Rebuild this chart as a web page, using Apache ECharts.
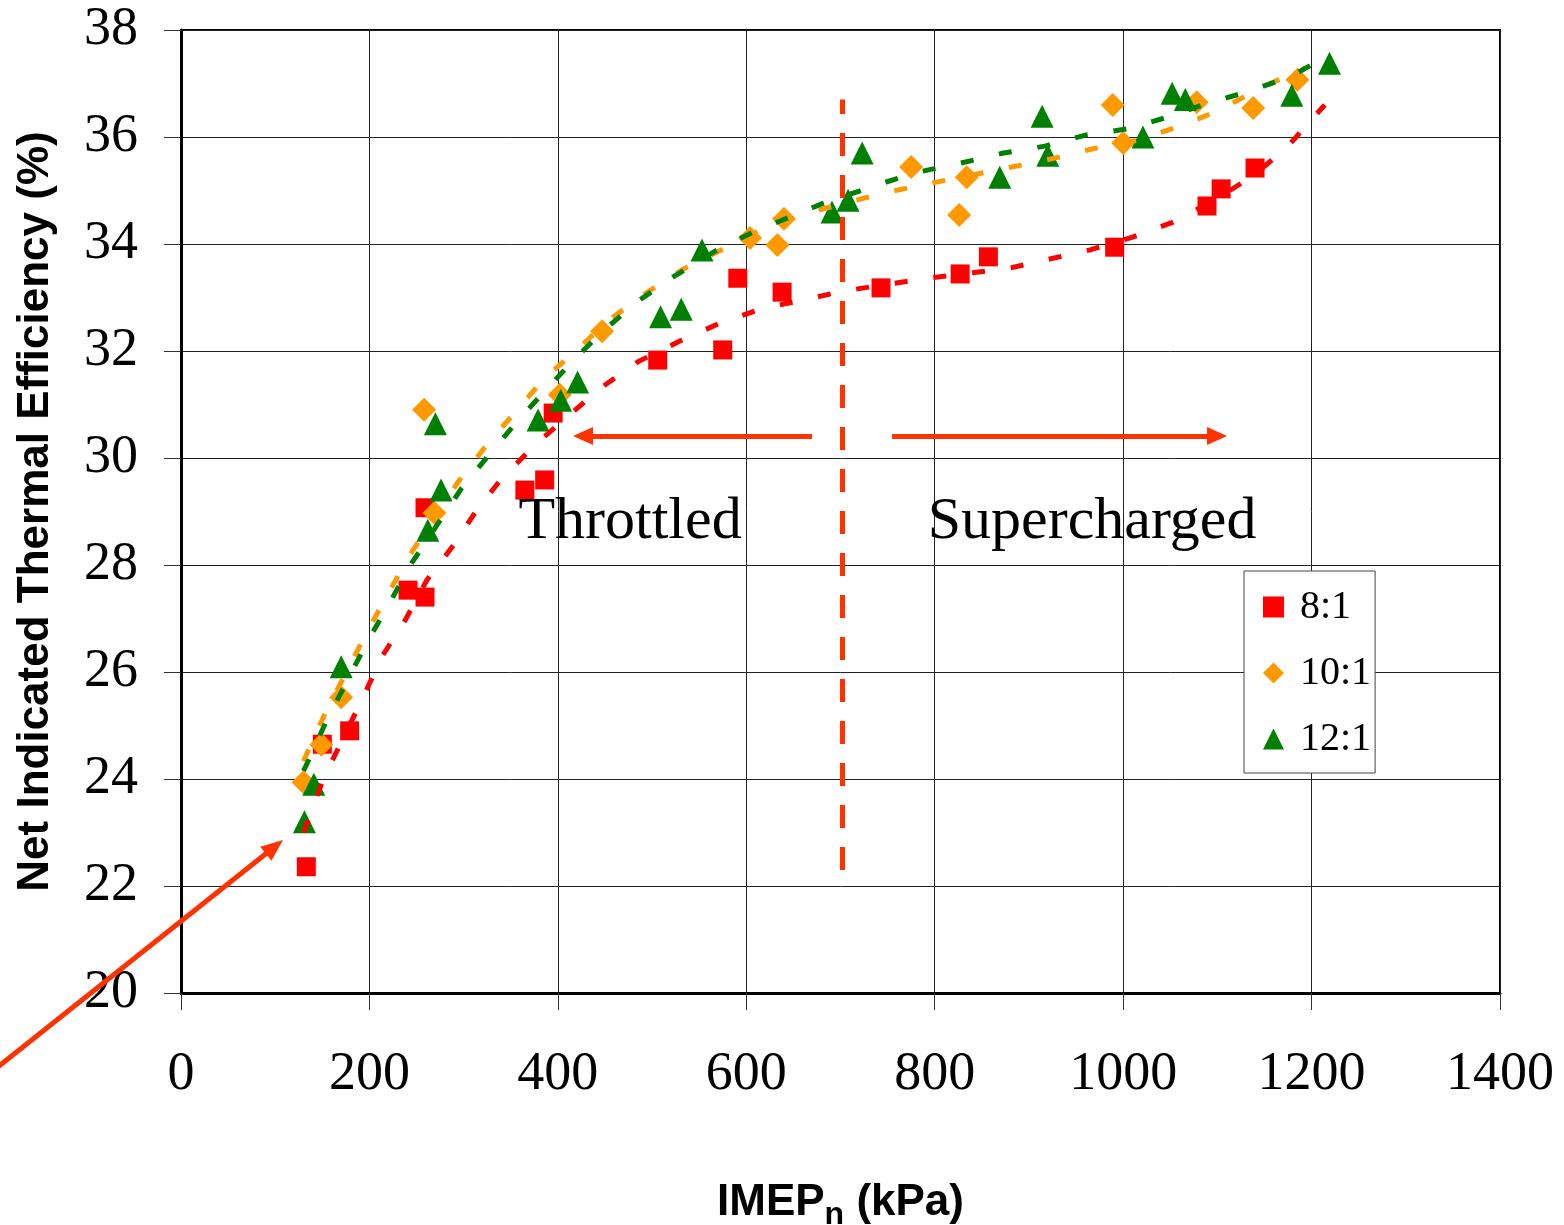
<!DOCTYPE html>
<html><head><meta charset="utf-8">
<script src="https://cdn.jsdelivr.net/npm/echarts/dist/echarts.min.js"></script>
<style>html,body{margin:0;padding:0;background:#fff}#c{width:1564px;height:1225px}</style>
</head><body><div id="c"></div>
<script>
// ---- data ----
const seriesNames = ['8:1', '10:1', '12:1'];
const cr8X  = [133, 150, 179, 241, 259, 259, 365, 386, 395, 506, 575, 591, 638, 743, 827, 857, 991, 1089, 1104, 1140];
const cr8Y  = [22.36, 24.65, 24.9, 27.53, 29.07, 27.4, 29.4, 29.59, 30.84, 31.83, 32.02, 33.36, 33.1, 33.18, 33.44, 33.76, 33.94, 34.71, 35.03, 35.42];
const cr10X = [130, 149, 170, 258, 269, 402, 447, 604, 633, 640, 775, 826, 834, 989, 1000, 1078, 1138, 1185];
const cr10Y = [23.94, 24.64, 25.53, 30.9, 28.97, 31.18, 32.37, 34.11, 33.98, 34.47, 35.44, 34.54, 35.25, 36.6, 35.89, 36.65, 36.54, 37.07];
const cr12X = [131, 141, 170, 262, 270, 276, 379, 403, 421, 509, 531, 553, 691, 708, 723, 869, 914, 920, 1021, 1052, 1066, 1179, 1219];
const cr12Y = [23.2, 23.9, 26.1, 28.65, 30.64, 29.4, 30.71, 31.08, 31.42, 32.64, 32.78, 33.89, 34.6, 34.82, 35.7, 35.25, 36.39, 35.66, 36.0, 36.82, 36.7, 36.78, 37.38];

// trend lines
const tr8X  = [130, 135, 151, 192, 213, 238, 261, 291, 314, 341, 378, 445, 485, 530, 572, 618, 660, 703, 792, 880, 922, 965, 1010, 1053, 1100, 1140, 1175, 1214];
const tr8Y  = [23.0, 23.23, 24.0, 25.48, 26.28, 26.97, 27.72, 28.41, 29.03, 29.63, 30.28, 31.3, 31.8, 32.19, 32.52, 32.8, 32.95, 33.12, 33.36, 33.55, 33.72, 33.89, 34.13, 34.41, 34.85, 35.3, 35.83, 36.6];
const tr10X = [130, 134, 153, 196, 219, 243, 294, 326, 355, 385, 418, 450, 489, 533, 577, 620, 680, 750, 797, 882, 926, 968, 1015, 1058, 1101, 1145, 1193];
const tr10Y = [24.33, 24.49, 25.23, 26.7, 27.44, 28.19, 29.55, 30.28, 30.86, 31.48, 31.98, 32.52, 33.03, 33.53, 33.92, 34.3, 34.65, 34.97, 35.14, 35.44, 35.6, 35.78, 35.94, 36.19, 36.49, 36.91, 37.29];
const tr12X = [130, 134, 154, 197, 222, 245, 298, 327, 358, 415, 447, 484, 522, 569, 607, 680, 745, 784, 827, 873, 917, 961, 1004, 1047, 1091, 1131, 1177, 1220];
const tr12Y = [24.15, 24.3, 25.07, 26.54, 27.31, 28.04, 29.44, 30.06, 30.71, 31.8, 32.36, 32.92, 33.38, 33.89, 34.22, 34.75, 35.14, 35.35, 35.51, 35.7, 35.83, 36.04, 36.15, 36.37, 36.64, 36.84, 37.12, 37.55];

// annotations (data coordinates)
const dividerX = 702, dividerY = [22.3, 36.7];
const leftArrow  = [[669.8, 30.41], [426.7, 30.41]];
const rightArrow = [[754.7, 30.41], [1099.7, 30.41]];
const diagArrow  = [[-202.7, 18.5], [108.3, 22.86]];
const textLabels = [['Throttled', 476.6, 28.8], ['Supercharged', 967, 28.8]];

const xMin = 0, xMax = 1400, xStep = 200;
const yMin = 20, yMax = 38, yStep = 2;

// ---- chart ----
function pairs(xs, ys) { return xs.map((x, i) => [x, ys[i]]); }
const serif = '"Liberation Serif", "Times New Roman", serif';
const sans = '"Liberation Sans", Arial, sans-serif';
const colors = ['#FF0000', '#FF9900', '#008000'];
const annot = '#FF3300';

const chart = echarts.init(document.getElementById('c'), null, { renderer: 'canvas' });

function trend(name, xs, ys, color) {
  return {
    name, type: 'line', data: pairs(xs, ys), showSymbol: false, symbol: 'none', silent: true, z: 5,
    lineStyle: { color, width: 5, type: [13, 26] }
  };
}

const option = {
  animation: false,
  backgroundColor: '#fff',
  grid: { left: 181, right: 64, top: 30, bottom: 232, containLabel: false, outerBoundsMode: 'none',
          show: true, borderColor: '#000', borderWidth: 2, backgroundColor: 'transparent' },
  xAxis: {
    type: 'value', min: xMin, max: xMax, interval: xStep,
    axisLine: { show: true, onZero: false, lineStyle: { color: '#000', width: 3 } },
    axisTick: { show: true, length: 17, lineStyle: { color: '#333', width: 1 } },
    splitLine: { show: true, lineStyle: { color: '#222', width: 1 } },
    axisLabel: { fontFamily: serif, fontSize: 54, color: '#000', margin: 55, formatter: v => String(v) },
    name: '{b|IMEP}{s|n}{b| (kPa)}', nameLocation: 'middle', nameGap: 185,
    nameTextStyle: {
      color: '#000',
      rich: {
        b: { fontFamily: sans, fontWeight: 'bold', fontSize: 44, color: '#000', lineHeight: 50 },
        s: { fontFamily: sans, fontWeight: 'bold', fontSize: 32, color: '#000', lineHeight: 50, padding: [24, 0, 0, 0] }
      }
    }
  },
  yAxis: {
    type: 'value', min: yMin, max: yMax, interval: yStep,
    axisLine: { show: true, onZero: false, lineStyle: { color: '#000', width: 3 } },
    axisTick: { show: true, length: 17, lineStyle: { color: '#333', width: 1 } },
    splitLine: { show: true, lineStyle: { color: '#222', width: 1 } },
    axisLabel: { fontFamily: serif, fontSize: 54, color: '#000', margin: 43, formatter: v => String(v) },
    name: 'Net Indicated Thermal Efficiency (%)', nameLocation: 'middle', nameGap: 123,
    nameTextStyle: { fontFamily: sans, fontWeight: 'bold', fontSize: 44, color: '#000' }
  },
  legend: {
    orient: 'vertical', left: 1244, top: 571,
    backgroundColor: '#fff', borderColor: '#444', borderWidth: 1, borderRadius: 0,
    padding: [14, 4, 12, 19], itemGap: 22, itemWidth: 21, itemHeight: 21,
    textStyle: { fontFamily: serif, fontSize: 40, color: '#000', lineHeight: 44, padding: [0, 0, 0, 11] },
    data: [{ name: seriesNames[0], icon: 'rect' }, { name: seriesNames[1], icon: 'diamond' }, { name: seriesNames[2], icon: 'triangle' }]
  },
  series: [
    { name: seriesNames[0], type: 'scatter', data: pairs(cr8X, cr8Y), symbol: 'rect', symbolSize: 19, itemStyle: { color: colors[0], opacity: 1 }, z: 2 },
    { name: seriesNames[1], type: 'scatter', data: pairs(cr10X, cr10Y), symbol: 'diamond', symbolSize: 24, itemStyle: { color: colors[1], opacity: 1 }, z: 3 },
    { name: seriesNames[2], type: 'scatter', data: pairs(cr12X, cr12Y), symbol: 'triangle', symbolSize: 23, itemStyle: { color: colors[2], opacity: 1 }, z: 4 },
    trend('trend 8:1', tr8X, tr8Y, colors[0]),
    trend('trend 10:1', tr10X, tr10Y, colors[1]),
    trend('trend 12:1', tr12X, tr12Y, colors[2]),
    {
      name: 'annotations', type: 'line', data: [], silent: true, z: 6,
      markLine: {
        silent: true, animation: false, label: { show: false },
        data: [
          [{ coord: [dividerX, dividerY[0]], symbol: 'none', lineStyle: { color: annot, width: 5, type: [23, 19] } },
           { coord: [dividerX, dividerY[1]], symbol: 'none' }],
          [{ coord: leftArrow[0], symbol: 'none', lineStyle: { color: annot, width: 5, type: 'solid' } },
           { coord: leftArrow[1], symbol: 'triangle', symbolSize: [18, 20] }],
          [{ coord: rightArrow[0], symbol: 'none', lineStyle: { color: annot, width: 5, type: 'solid' } },
           { coord: rightArrow[1], symbol: 'triangle', symbolSize: [18, 20] }]
        ]
      }
    }
  ]
};
chart.setOption(option);

// graphics placed through the chart's own scales
const g = [];
textLabels.forEach(([t, x, y]) => {
  const p = chart.convertToPixel({ gridIndex: 0 }, [x, y]);
  g.push({ type: 'text', z: 10, style: { text: t, x: p[0], y: p[1], fontFamily: serif, fontSize: 60, fill: '#000', align: 'center', verticalAlign: 'middle' } });
});
const s = chart.convertToPixel({ gridIndex: 0 }, diagArrow[0]);
const t = chart.convertToPixel({ gridIndex: 0 }, diagArrow[1]);
const dx = t[0] - s[0], dy = t[1] - s[1], len = Math.hypot(dx, dy);
const ux = dx / len, uy = dy / len, L = 22, W = 9;
const bx = t[0] - ux * L, by = t[1] - uy * L;
g.push({ type: 'line', z: 10, shape: { x1: s[0], y1: s[1], x2: bx + ux * 2, y2: by + uy * 2 }, style: { stroke: annot, lineWidth: 5 } });
g.push({ type: 'polygon', z: 10, shape: { points: [[t[0], t[1]], [bx - uy * W, by + ux * W], [bx + uy * W, by - ux * W]] }, style: { fill: annot } });
chart.setOption({ graphic: g });
</script></body></html>
